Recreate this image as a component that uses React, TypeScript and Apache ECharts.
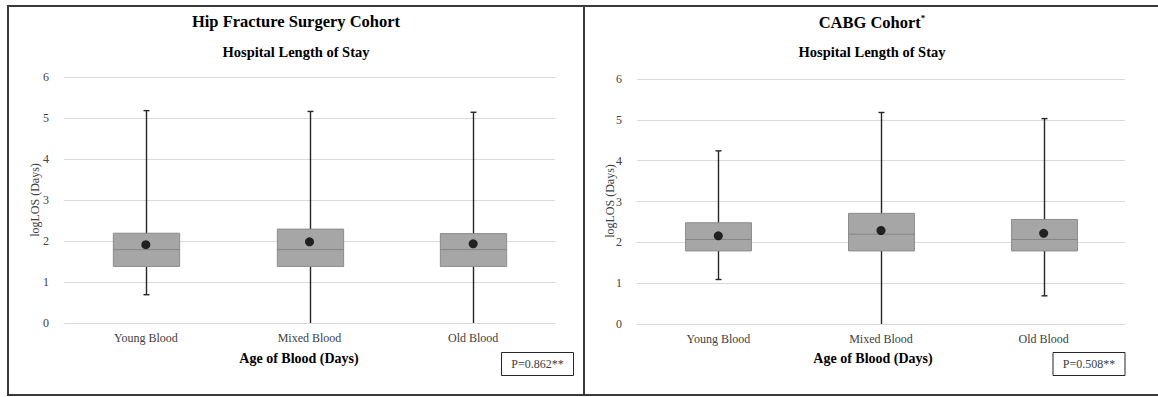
import React, { useEffect, useRef } from "react";
import * as echarts from "echarts";

const categories = ["Young Blood", "Mixed Blood", "Old Blood"];
const yMin = 0;
const yMax = 6;
const yStep = 1;

// Hip Fracture Surgery Cohort (logLOS)
const hipMin = [0.69, 0, 0];
const hipQ1 = [1.38, 1.38, 1.38];
const hipMedian = [1.79, 1.79, 1.79];
const hipQ3 = [2.19, 2.29, 2.18];
const hipMax = [5.18, 5.16, 5.14];
const hipMean = [1.91, 1.98, 1.93];
const hipP = "P=0.862**";

// CABG Cohort (logLOS)
const cabgMin = [1.09, 0, 0.69];
const cabgQ1 = [1.79, 1.79, 1.79];
const cabgMedian = [2.07, 2.2, 2.07];
const cabgQ3 = [2.48, 2.71, 2.56];
const cabgMax = [4.24, 5.18, 5.03];
const cabgMean = [2.16, 2.29, 2.22];
const cabgP = "P=0.508**";

const FONT = "'Liberation Serif', 'Times New Roman', serif";

function renderBox(params: any, api: any) {
  const idx = api.value(0);
  const lo = api.coord([idx, api.value(1)]);
  const q1 = api.coord([idx, api.value(2)]);
  const med = api.coord([idx, api.value(3)]);
  const q3 = api.coord([idx, api.value(4)]);
  const hi = api.coord([idx, api.value(5)]);
  const band = api.size([1, 0])[0];
  const bw = band * 0.405;
  const cw = 6;
  const x = Math.round(lo[0]) + 0.5;
  const children: any[] = [
    {
      type: "line",
      shape: { x1: x, y1: hi[1], x2: x, y2: lo[1] },
      style: { stroke: "#262626", lineWidth: 1.4 },
    },
    {
      type: "line",
      shape: { x1: x - cw / 2, y1: hi[1], x2: x + cw / 2, y2: hi[1] },
      style: { stroke: "#262626", lineWidth: 1.4 },
    },
  ];
  if (api.value(1) > 0) {
    children.push({
      type: "line",
      shape: { x1: x - cw / 2, y1: lo[1], x2: x + cw / 2, y2: lo[1] },
      style: { stroke: "#262626", lineWidth: 1.4 },
    });
  }
  children.push(
    {
      type: "rect",
      shape: { x: x - bw / 2, y: q3[1], width: bw, height: q1[1] - q3[1] },
      style: { fill: "#a6a6a6", stroke: "#8c8c8c", lineWidth: 1 },
    },
    {
      type: "line",
      shape: { x1: x - bw / 2, y1: med[1], x2: x + bw / 2, y2: med[1] },
      style: { stroke: "#858585", lineWidth: 1 },
    }
  );
  return { type: "group", children };
}

function boxData(mn: number[], q1: number[], md: number[], q3: number[], mx: number[]) {
  return categories.map((_, i) => [i, mn[i], q1[i], md[i], q3[i], mx[i]]);
}

function meanData(mean: number[]) {
  return categories.map((_, i) => [i, mean[i]]);
}

function xAxisFor(gridIndex: number) {
  return {
    type: "category",
    gridIndex,
    data: categories,
    boundaryGap: true,
    axisLine: { show: true, lineStyle: { color: "#d9d9d9", width: 1 } },
    axisTick: { show: false },
    axisLabel: { color: "#404040", fontSize: 12, fontFamily: FONT, margin: 9 },
  };
}

function yAxisFor(gridIndex: number) {
  return {
    type: "value",
    gridIndex,
    min: yMin,
    max: yMax,
    interval: yStep,
    axisLine: { show: false },
    axisTick: { show: false },
    axisLabel: { color: "#404040", fontSize: 12, fontFamily: FONT, margin: 15 },
    splitLine: { show: true, lineStyle: { color: "#d9d9d9", width: 1 } },
  };
}

function pBox(cx: number, text: string) {
  return {
    type: "group",
    children: [
      {
        type: "rect",
        shape: { x: cx - 36, y: 352.5, width: 72, height: 23 },
        style: { fill: "#ffffff", stroke: "#262626", lineWidth: 1 },
      },
      {
        type: "text",
        x: cx,
        y: 364,
        style: {
          text,
          fill: "#404040",
          font: `12px ${FONT}`,
          align: "center",
          verticalAlign: "middle",
        },
      },
    ],
  };
}

export default function App() {
  const ref = useRef<HTMLDivElement>(null);
  useEffect(() => {
    if (!ref.current) return;
    const chart = echarts.init(ref.current, null, { renderer: "svg" });
    const option: any = {
      animation: false,
      backgroundColor: "#ffffff",
      grid: [
        { left: 64, top: 77, width: 491, height: 246 },
        { left: 637, top: 79, width: 488, height: 245 },
      ],
      xAxis: [xAxisFor(0), xAxisFor(1)],
      yAxis: [yAxisFor(0), yAxisFor(1)],
      series: [
        {
          type: "custom",
          xAxisIndex: 0,
          yAxisIndex: 0,
          renderItem: renderBox,
          encode: { x: 0, y: [1, 2, 3, 4, 5] },
          data: boxData(hipMin, hipQ1, hipMedian, hipQ3, hipMax),
          z: 2,
        },
        {
          type: "scatter",
          xAxisIndex: 0,
          yAxisIndex: 0,
          symbol: "circle",
          symbolSize: 9,
          itemStyle: { color: "#000000" },
          data: meanData(hipMean),
          z: 5,
        },
        {
          type: "custom",
          xAxisIndex: 1,
          yAxisIndex: 1,
          renderItem: renderBox,
          encode: { x: 0, y: [1, 2, 3, 4, 5] },
          data: boxData(cabgMin, cabgQ1, cabgMedian, cabgQ3, cabgMax),
          z: 2,
        },
        {
          type: "scatter",
          xAxisIndex: 1,
          yAxisIndex: 1,
          symbol: "circle",
          symbolSize: 9,
          itemStyle: { color: "#000000" },
          data: meanData(cabgMean),
          z: 5,
        },
      ],
      graphic: [
        {
          type: "rect",
          shape: { x: 8, y: 6, width: 576, height: 389 },
          style: { fill: "none", stroke: "#3a3a3a", lineWidth: 2 },
          z: 10,
        },
        {
          type: "rect",
          shape: { x: 584, y: 6, width: 600, height: 389 },
          style: { fill: "none", stroke: "#3a3a3a", lineWidth: 2 },
          z: 10,
        },
        {
          type: "text",
          x: 296,
          y: 21,
          style: {
            text: "Hip Fracture Surgery Cohort",
            fill: "#000000",
            font: `bold 16.5px ${FONT}`,
            align: "center",
            verticalAlign: "middle",
          },
        },
        {
          type: "text",
          x: 296,
          y: 52,
          style: {
            text: "Hospital Length of Stay",
            fill: "#000000",
            font: `bold 14.5px ${FONT}`,
            align: "center",
            verticalAlign: "middle",
          },
        },
        {
          type: "text",
          x: 872,
          y: 22,
          style: {
            text: "{t|CABG Cohort}{s|*}",
            align: "center",
            verticalAlign: "middle",
            rich: {
              t: { font: `bold 16.5px ${FONT}`, fill: "#000000" },
              s: { font: `bold 9px ${FONT}`, fill: "#000000", verticalAlign: "top", padding: [0, 0, 8, 0] },
            },
          },
        },
        {
          type: "text",
          x: 872,
          y: 52,
          style: {
            text: "Hospital Length of Stay",
            fill: "#000000",
            font: `bold 14.5px ${FONT}`,
            align: "center",
            verticalAlign: "middle",
          },
        },
        {
          type: "text",
          x: 35,
          y: 200,
          rotation: Math.PI / 2,
          style: {
            text: "logLOS (Days)",
            fill: "#404040",
            font: `12px ${FONT}`,
            align: "center",
            verticalAlign: "middle",
          },
        },
        {
          type: "text",
          x: 610,
          y: 201,
          rotation: Math.PI / 2,
          style: {
            text: "logLOS (Days)",
            fill: "#404040",
            font: `12px ${FONT}`,
            align: "center",
            verticalAlign: "middle",
          },
        },
        {
          type: "text",
          x: 299,
          y: 358,
          style: {
            text: "Age of Blood (Days)",
            fill: "#000000",
            font: `bold 14px ${FONT}`,
            align: "center",
            verticalAlign: "middle",
          },
        },
        {
          type: "text",
          x: 873,
          y: 358,
          style: {
            text: "Age of Blood (Days)",
            fill: "#000000",
            font: `bold 14px ${FONT}`,
            align: "center",
            verticalAlign: "middle",
          },
        },
        pBox(537.5, hipP),
        pBox(1089, cabgP),
      ],
    };
    chart.setOption(option);
    return () => {
      chart.dispose();
    };
  }, []);
  return (
    <div
      ref={ref}
      style={{ position: "fixed", left: 0, top: 0, width: 1158, height: 397 }}
    />
  );
}
